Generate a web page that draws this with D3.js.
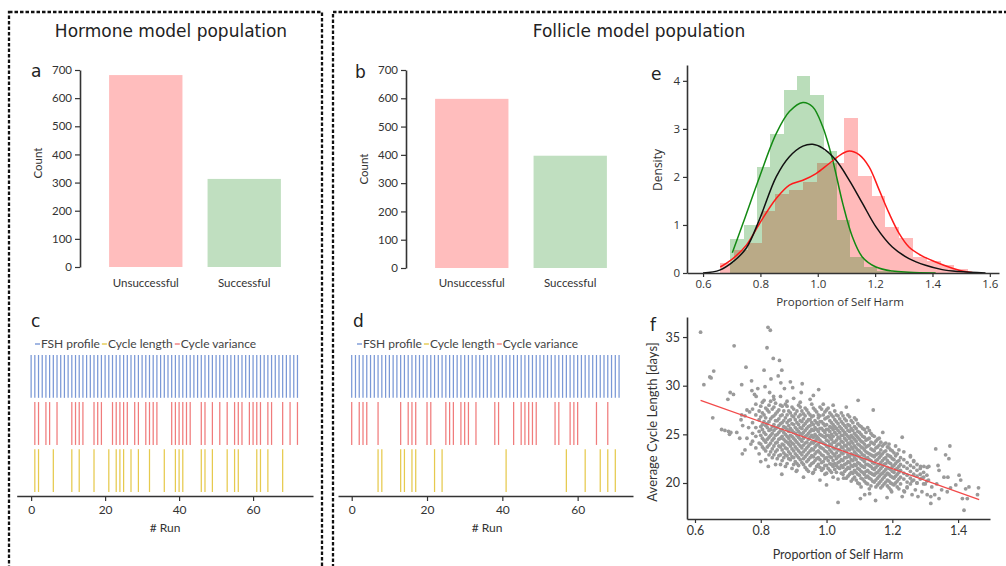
<!DOCTYPE html>
<html>
<head>
  <meta charset="utf-8">
  <title>Hormone and follicle model populations</title>
  <script src="https://cdn.jsdelivr.net/npm/d3@7"></script>
  <style>
    body { margin: 0; background: #fff; }
    text { font-family: Lato, "Noto Sans", sans-serif; fill: #333; }
  </style>
</head>
<body>
  <svg id="fig" width="1006" height="566"></svg>
  <script>
    // ---------- data ----------
    const outcomes = ["Unsuccessful", "Successful"];
    const hormoneCounts = [682, 313];
    const follicleCounts = [598, 397];
    const countTicks = [0, 100, 200, 300, 400, 500, 600, 700];

    const runRows = ["FSH profile", "Cycle variance", "Cycle length"];
    const legendOrder = ["FSH profile", "Cycle length", "Cycle variance"];
    const runTicks = [0, 20, 40, 60];

    // runs flagged in panel c (hormone model)
    const hormoneFsh = [0,1,2,3,4,5,6,7,8,9,10,11,12,13,14,15,16,17,18,19,20,21,22,23,24,25,26,27,28,29,30,31,32,33,34,35,36,
      37,38,39,40,41,42,43,44,45,46,47,48,49,50,51,52,53,54,55,56,57,58,59,60,61,62,63,64,65,66,67,68,69,70,71,72];
    const hormoneVariance = [1,2,4,5,7,11,12,13,14,17,18,19,22,23,24,25,26,28,29,31,32,33,34,38,39,40,41,42,43,46,47,49,51,53,55,56,57,59,60,61,62,64,65,68,70,72];
    const hormoneLength = [1,2,6,11,13,17,21,23,24,25,27,29,32,36,39,40,41,46,47,49,53,55,56,61,62,64,68];

    // runs flagged in panel d (follicle model)
    const follicleFsh = [0,1,2,3,4,5,6,7,8,9,10,11,12,13,14,15,16,17,18,19,20,21,22,23,24,25,26,27,28,29,30,31,32,33,34,35,36,
      37,38,39,40,41,42,43,44,45,46,47,48,49,50,51,52,53,54,55,56,57,58,59,60,61,62,63,64,65,66,67,68,69,70,71];
    const follicleVariance = [0,2,3,4,7,13,15,16,17,20,21,25,26,27,29,30,31,33,38,39,43,45,46,47,48,49,54,55,58,59,60,65,68];
    const follicleLength = [7,8,13,14,16,17,22,24,41,57,62,66,68,70];

    // panel e: histograms (bin edges + density) and density curves
    const harmTicks = [0.6, 0.8, 1.0, 1.2, 1.4, 1.6];
    const densityTicks = [0, 1, 2, 3, 4];
    const failEdges = [0.660,0.708,0.756,0.804,0.852,0.900,0.948,0.996,1.044,1.092,1.140,1.188,1.236,1.284,1.332,1.380,1.428,1.476,1.524];
    const failDensity = [0.20,0.47,0.63,1.30,1.65,1.72,1.90,2.28,2.30,3.22,2.02,1.60,0.96,0.72,0.33,0.25,0.17,0.09];
    const successEdges = [0.695,0.742,0.788,0.835,0.881,0.928,0.974,1.021,1.067,1.114,1.160,1.207,1.253,1.300,1.346,1.393];
    const successDensity = [0.70,1.00,2.20,2.90,3.80,4.10,3.70,2.55,1.10,0.33,0.12,0.05,0.03,0.02,0.01];

    const successCurve = [[0.702,0.42],[0.739,1.03],[0.797,2.0],[0.855,2.9],[0.901,3.36],[0.948,3.55],[0.982,3.46],[1.017,3.05],
      [1.052,2.35],[1.087,1.45],[1.121,0.75],[1.156,0.33],[1.203,0.125],[1.260,0.04],[1.318,0.015],[1.411,0.0]];
    const allCurve = [[0.600,0.0],[0.658,0.06],[0.704,0.23],[0.751,0.52],[0.797,1.12],[0.855,2.0],[0.901,2.42],[0.948,2.64],
      [0.982,2.68],[1.017,2.6],[1.063,2.35],[1.110,1.93],[1.156,1.45],[1.203,0.96],[1.260,0.54],[1.318,0.30],[1.376,0.16],
      [1.434,0.07],[1.492,0.03],[1.585,0.0]];
    const failCurve = [[0.660,0.125],[0.704,0.30],[0.751,0.58],[0.797,1.03],[0.855,1.55],[0.901,1.83],[0.948,1.93],[0.994,2.07],
      [1.040,2.28],[1.087,2.49],[1.110,2.54],[1.145,2.46],[1.179,2.21],[1.214,1.73],[1.249,1.24],[1.284,0.82],[1.318,0.54],
      [1.365,0.35],[1.411,0.23],[1.457,0.125],[1.504,0.04],[1.539,0.01]];

    // panel f: self harm vs average cycle length
    const harmTicksF = [0.6, 0.8, 1.0, 1.2, 1.4];
    const cycleTicks = [20, 25, 30, 35];
    const scatterFringe = [
      [0.617,35.5],[0.627,30.1],[0.649,30.8],[0.645,30.9],[0.657,31.5],[0.654,26.7],[0.719,34.1],[0.755,31.9],[0.81,31.6],
      [0.819,33.9],[0.822,36.0],[0.829,35.7],[0.838,32.8],[0.857,32.6],[0.864,31.6],[0.853,31.0],[0.831,30.7],[0.742,30.1],
      [0.772,30.5],[0.813,29.9],[0.861,30.3],[0.89,30.4],[0.926,30.2],[0.791,29.7],[0.773,29.5],[0.781,29.1],[0.786,28.9],
      [0.872,29.7],[0.897,29.8],[0.707,29.3],[0.717,29.1],[0.70,28.6],[0.827,29.3],[0.839,28.9],[0.923,29.3],[0.96,29.0],
      [0.976,29.6],[1.096,28.5],[1.142,27.5],
      [0.681,25.5],[0.691,25.4],[0.702,25.3],[0.709,25.2],[0.727,25.2],[0.705,25.0],[0.742,27.0],[0.752,23.4],[0.744,23.0],
      [0.74,26.5],[0.745,25.9],[0.752,26.9],[0.758,24.6],[0.763,25.7],[0.766,27.3],[0.77,24.0],[0.736,24.6],[0.758,27.5],
      [0.823,21.7],[0.864,20.9],[0.908,21.2],[0.958,21.0],[1.035,18.0],[1.052,20.5],[1.017,21.9],[0.80,22.2],[0.93,20.6],
      [0.98,20.3],[1.0,19.8],[1.103,18.4],[1.116,18.8],[1.131,18.9],[1.149,18.2],[1.184,18.5],[1.198,19.1],[1.23,18.6],
      [1.237,19.1],[1.245,19.5],[1.26,18.8],[1.27,19.3],[1.278,18.6],[1.29,19.1],[1.306,18.8],[1.317,18.6],[1.329,18.8],
      [1.342,18.4],[1.317,17.9],[1.367,19.1],[1.377,19.5],
      [1.171,25.2],[1.23,24.7],[1.19,24.0],[1.21,23.8],[1.255,22.7],[1.265,22.2],[1.286,21.7],[1.296,21.7],[1.311,21.7],
      [1.306,21.6],[1.332,23.5],[1.375,23.8],[1.362,22.9],[1.372,22.5],[1.339,21.8],[1.342,21.3],[1.357,20.6],[1.369,20.6],
      [1.403,20.8],[1.408,20.3],[1.393,19.8],[1.423,19.4],[1.433,19.6],[1.462,19.5],[1.459,18.8],[1.428,18.4],[1.413,18.4],
      [1.418,17.2],[1.26,20.2],[1.275,20.0],[1.29,20.5],[1.3,19.9],[1.31,20.3],[1.32,19.6],[1.335,19.9],[1.35,19.3],
      [0.84,28.6],[0.86,28.9],[0.88,28.4],[0.9,28.7],[0.92,28.3],[0.95,28.6],[0.99,28.1],[1.02,28.0],[1.06,27.8]
    ];
    // dense core, listed column by column: [self harm, [cycle lengths]]
    const scatterCore = [
      [0.775,[27.6,26.2,25.1,24.3]],
      [0.785,[28.1,27.0,25.7,24.8,23.6]],
      [0.795,[27.4,26.5,25.3,24.1,23.0]],
      [0.805,[28.3,27.2,26.0,25.5,24.6,23.7]],
      [0.815,[27.7,26.7,25.9,25.0,24.2,23.3,22.4]],
      [0.825,[28.0,27.3,26.3,25.4,24.7,23.9,22.9]],
      [0.835,[27.6,26.8,25.8,25.1,24.4,23.5,22.6]],
      [0.845,[28.2,27.1,26.4,25.6,24.9,24.1,23.2,21.9]],
      [0.855,[27.5,26.6,25.9,25.2,24.5,23.8,22.8]],
      [0.865,[27.9,27.0,26.2,25.5,24.8,24.0,23.4,22.3]],
      [0.875,[28.1,26.7,25.7,25.0,24.3,23.6,22.9,21.7]],
      [0.885,[27.4,26.4,25.9,25.3,24.6,24.0,23.2,22.5]],
      [0.895,[27.8,26.9,26.1,25.4,24.8,24.1,23.5,22.7,21.5]],
      [0.905,[27.1,26.5,25.7,25.1,24.4,23.7,23.0,22.2]],
      [0.915,[28.0,26.8,26.0,25.3,24.7,24.0,23.3,22.6,21.8]],
      [0.925,[27.4,26.3,25.6,25.0,24.3,23.6,22.9,22.1]],
      [0.935,[27.7,26.9,26.1,25.4,24.8,24.1,23.4,22.7,21.6]],
      [0.945,[27.2,26.5,25.8,25.1,24.5,23.8,23.1,22.4,21.2]],
      [0.955,[28.1,26.8,26.2,25.5,24.9,24.2,23.5,22.8,22.0]],
      [0.965,[27.5,26.4,25.7,25.0,24.3,23.7,23.0,22.3,21.4]],
      [0.975,[27.0,26.7,26.0,25.3,24.6,24.0,23.3,22.6,21.9]],
      [0.985,[27.6,26.3,25.6,24.9,24.2,23.6,22.9,22.1,21.3]],
      [0.995,[27.3,26.6,25.9,25.2,24.7,24.0,23.3,22.5,21.8,20.9]],
      [1.005,[27.7,26.8,25.5,24.9,24.3,23.7,23.0,22.3,21.5]],
      [1.015,[27.0,26.2,25.7,25.0,24.5,23.9,23.2,22.6,21.9,21.1]],
      [1.025,[27.4,26.5,25.8,25.2,24.2,23.5,22.8,22.0,21.4]],
      [1.035,[26.9,26.1,25.4,24.7,24.0,23.4,22.7,22.1,21.6,20.4]],
      [1.045,[27.2,26.3,25.6,24.9,24.3,23.7,23.1,22.4,21.8,21.0]],
      [1.055,[26.6,25.9,25.2,24.6,23.9,23.3,22.6,21.9,21.2]],
      [1.065,[27.0,26.0,25.4,24.8,24.1,23.5,22.9,22.2,21.6,20.7]],
      [1.075,[26.4,25.6,24.9,24.3,23.7,23.0,22.4,21.8,21.1,20.2]],
      [1.085,[26.7,25.8,25.1,24.5,23.8,23.2,22.6,21.9,21.3,20.6]],
      [1.095,[26.1,25.3,24.7,24.0,23.4,22.8,22.1,21.5,20.9,20.0]],
      [1.105,[25.8,25.0,24.3,23.7,23.1,22.5,21.8,21.2,20.5,19.6]],
      [1.115,[25.5,24.7,24.0,23.4,22.8,22.2,21.6,20.9,20.2]],
      [1.125,[25.7,24.5,23.8,23.1,22.6,21.9,21.3,20.7,19.9]],
      [1.135,[25.1,24.2,23.5,22.9,22.3,21.7,21.0,20.4,19.7]],
      [1.145,[24.8,24.0,23.3,22.7,22.0,21.4,20.8,20.1]],
      [1.155,[24.5,23.7,23.0,22.4,21.8,21.1,20.5,19.8]],
      [1.165,[24.2,23.4,22.8,22.1,21.5,20.9,20.2,19.5]],
      [1.175,[24.0,23.2,22.5,21.9,21.2,20.6,19.9]],
      [1.185,[23.7,22.9,22.3,21.6,21.0,20.3,19.7]],
      [1.195,[23.4,22.7,22.0,21.4,20.7,20.0,19.3]],
      [1.205,[23.1,22.4,21.8,21.1,20.5,19.8]],
      [1.215,[23.0,22.2,21.5,20.9,20.2,19.6]],
      [1.225,[22.6,21.9,21.3,20.6,19.9]],
      [1.235,[23.2,22.4,21.7,21.0,20.4,19.2]],
      [1.245,[22.1,21.5,20.8,20.1,19.6]],
      [1.255,[22.8,21.8,21.2,20.5,19.9]],
      [1.265,[22.3,21.6,20.9,20.3]],
      [1.275,[21.9,21.3,20.7,20.0]],
      [1.285,[21.5,20.9,20.4]],
      [1.295,[21.1,20.6,19.9]],
      [1.305,[20.8,20.2]]
    ];
    // second, interleaved pass over the densest part of the cloud
    const scatterCoreFill = [
      [0.800,[27.9,26.8,25.8,24.9,24.0]],
      [0.810,[28.5,27.0,26.3,25.2,24.4,23.5]],
      [0.820,[27.5,26.1,25.7,24.5,23.7]],
      [0.830,[28.4,26.6,25.5,24.9,24.1,23.2]],
      [0.840,[27.8,26.9,26.0,25.4,24.6,23.8,22.9]],
      [0.850,[27.3,26.4,25.7,25.0,24.2,23.4,22.5]],
      [0.860,[28.0,26.9,26.1,25.4,24.6,23.7,22.9,21.9]],
      [0.870,[27.4,26.4,25.8,25.2,24.5,23.9,23.1,22.6]],
      [0.880,[27.9,27.0,26.2,25.5,24.8,24.2,23.5,22.8,22.0]],
      [0.890,[27.2,26.5,25.6,24.9,24.3,23.8,23.0,22.4]],
      [0.900,[27.6,26.8,26.0,25.2,24.6,24.0,23.3,22.6,21.9]],
      [0.910,[27.4,26.2,25.5,24.9,24.2,23.5,22.8,22.0,21.3]],
      [0.920,[27.8,27.0,26.4,25.7,25.1,24.5,23.8,23.1,22.4]],
      [0.930,[27.1,26.6,25.9,25.2,24.6,23.9,23.2,22.5,21.9]],
      [0.940,[27.5,26.3,25.6,24.9,24.2,23.6,22.9,22.2,21.4]],
      [0.950,[27.0,26.5,25.9,25.3,24.7,24.0,23.3,22.6,21.8]],
      [0.960,[27.7,26.9,26.0,25.4,24.7,24.1,23.4,22.7,22.1,21.1]],
      [0.970,[27.3,26.2,25.5,24.8,24.5,23.9,23.2,22.5,21.7]],
      [0.980,[27.8,26.9,26.3,25.6,25.0,24.4,23.7,23.1,22.4,21.6]],
      [0.990,[27.0,26.1,25.4,24.8,24.1,23.5,22.8,22.2,21.5]],
      [1.000,[27.5,26.7,26.0,25.5,24.9,24.4,23.8,23.2,22.6,21.8,21.0]],
      [1.010,[27.2,26.4,25.8,25.3,24.7,24.0,23.4,22.7,22.0,21.3]],
      [1.020,[26.8,26.0,25.5,24.8,24.2,23.6,23.0,22.3,21.7,20.6]],
      [1.030,[27.0,26.3,25.6,25.0,24.4,23.8,23.1,22.5,21.8,21.1]],
      [1.040,[26.6,25.8,25.2,24.6,24.0,23.4,22.8,22.2,21.5]],
      [1.050,[26.9,26.1,25.4,24.9,24.2,23.6,23.0,22.3,21.6,20.9]],
      [1.060,[26.4,25.7,25.0,24.4,23.8,23.2,22.6,22.0,21.4,20.5]],
      [1.070,[26.8,25.9,25.3,24.6,24.0,23.4,22.7,22.1,21.5,20.9]],
      [1.080,[26.2,25.4,24.7,24.1,23.5,22.9,22.3,21.7,21.0,20.4]],
      [1.090,[26.5,25.6,24.9,24.3,23.6,23.0,22.4,21.8,21.1,20.3]],
      [1.100,[25.9,25.2,24.5,23.9,23.3,22.7,22.0,21.4,20.8,19.9]],
      [1.110,[25.6,24.8,24.2,23.6,22.9,22.4,21.7,21.1,20.4]],
      [1.120,[25.2,24.4,23.7,23.2,22.5,21.9,21.2,20.6,20.0]],
      [1.130,[25.4,24.6,23.9,23.0,22.4,21.8,21.1,20.5,19.4]],
      [1.140,[24.9,24.1,23.4,22.8,22.1,21.5,20.9,20.2]],
      [1.150,[24.3,23.6,22.9,22.3,21.6,21.0,20.3,19.6]],
      [1.160,[24.6,23.9,23.1,22.6,21.9,21.3,20.7,20.0]],
      [1.170,[23.8,23.0,22.3,21.7,21.0,20.4,19.7]],
      [1.180,[24.1,23.3,22.6,22.0,21.4,20.8,20.1]],
      [1.190,[23.6,22.8,22.1,21.5,20.9,20.2,19.5]],
      [1.200,[23.3,22.5,21.7,21.2,20.6,19.9]],
      [1.210,[22.8,22.0,21.4,20.7,20.0]],
      [1.220,[23.4,22.3,21.7,21.1,20.4,19.4]]
    ];
    const fitLine = [[0.617, 28.5], [1.464, 18.3]];

    // ---------- drawing ----------
    const svg = d3.select("#fig");
    const barColors = ["#ffbdbd", "#c0dfc0"];
    const runColors = { "FSH profile": "#7a98d6", "Cycle variance": "#f07c7c", "Cycle length": "#e6ca4e" };
    const ink = "#333";

    svg.append("rect").attr("width", 1006).attr("height", 566).attr("fill", "#fff");

    // dashed frames
    [[9, 12, 313, 620], [333, 12, 700, 620]].forEach(([x, y, w, h]) => {
      svg.append("rect").attr("x", x).attr("y", y).attr("width", w).attr("height", h)
        .attr("fill", "none").attr("stroke", "#111").attr("stroke-width", 2.3)
        .attr("stroke-dasharray", "3.5,2");
    });

    function title(x, txt) {
      svg.append("text").attr("x", x).attr("y", 37).attr("text-anchor", "middle")
        .style("font-family", "'DejaVu Sans', sans-serif").style("font-size", "17px").style("fill", "#222")
        .text(txt);
    }
    title(171, "Hormone model population");
    title(639, "Follicle model population");

    function panelLetter(x, y, s) {
      svg.append("text").attr("x", x).attr("y", y)
        .style("font-family", "'DejaVu Sans', sans-serif").style("font-size", "17px").style("fill", "#222")
        .text(s);
    }

    function styleAxis(g, size) {
      g.select(".domain").attr("stroke", ink).attr("stroke-width", 1.6);
      g.selectAll(".tick line").attr("stroke", ink).attr("stroke-width", 1.2);
      g.selectAll(".tick text").style("font-family", "Lato, sans-serif").style("font-size", size).style("fill", ink);
    }

    // panels a and b
    function barPanel(o) {
      const y = d3.scaleLinear().domain([0, 700]).range([o.yBase, o.yTop]);
      const x = d3.scaleBand().domain(outcomes).range(o.xRange).paddingInner(0.255).paddingOuter(0.128);
      const g = svg.append("g");
      g.selectAll("rect").data(o.counts).join("rect")
        .attr("x", (d, i) => x(outcomes[i]))
        .attr("y", d => y(d))
        .attr("width", x.bandwidth())
        .attr("height", d => y(0) - y(d))
        .attr("fill", (d, i) => barColors[i]);
      const ax = g.append("g").attr("transform", `translate(${o.axisX},0)`)
        .call(d3.axisLeft(y).tickValues(countTicks).tickSize(5).tickSizeOuter(0).tickPadding(3));
      styleAxis(ax, "11.5px");
      g.selectAll(".cat").data(outcomes).join("text")
        .attr("x", d => x(d) + x.bandwidth() / 2).attr("y", 287)
        .attr("text-anchor", "middle").style("font-size", "11.5px")
        .text(d => d);
      g.append("text").attr("transform", `translate(${o.labelX},${o.labelY}) rotate(-90)`)
        .attr("text-anchor", "middle").style("font-size", "11.5px").text("Count");
    }
    barPanel({ counts: hormoneCounts, yBase: 267, yTop: 70, xRange: [96.5, 293.5], axisX: 80, labelX: 42, labelY: 163 });
    barPanel({ counts: follicleCounts, yBase: 268, yTop: 70, xRange: [422.5, 619.5], axisX: 406, labelX: 368, labelY: 169 });
    panelLetter(31, 77, "a");
    panelLetter(355, 78, "b");

    // panels c and d
    function runPanel(o) {
      const x = d3.scaleLinear().domain(o.domain).range(o.range);
      const row = d3.scaleBand().domain(runRows).range([355, 492]).paddingInner(0.09);
      const g = svg.append("g");
      const sets = { "FSH profile": o.fsh, "Cycle variance": o.variance, "Cycle length": o.length };
      runRows.forEach(r => {
        g.append("g").selectAll("line").data(sets[r]).join("line")
          .attr("x1", d => x(d)).attr("x2", d => x(d))
          .attr("y1", row(r)).attr("y2", row(r) + row.bandwidth())
          .attr("stroke", runColors[r]).attr("stroke-width", 1.25);
      });
      const ax = g.append("g").attr("transform", "translate(0,496)")
        .call(d3.axisBottom(x).tickValues(runTicks).tickSize(5).tickSizeOuter(0).tickPadding(4));
      styleAxis(ax, "12px");
      g.append("text").attr("x", o.runLabelX).attr("y", 532).attr("text-anchor", "middle")
        .style("font-size", "12px").text("# Run");
      // legend
      let cx = o.legendX;
      legendOrder.forEach(k => {
        g.append("line").attr("x1", cx).attr("x2", cx + 5).attr("y1", 344).attr("y2", 344)
          .attr("stroke", runColors[k]).attr("stroke-width", 1.4);
        const t = g.append("text").attr("x", cx + 6).attr("y", 348)
          .style("font-size", "12px").style("fill", "#444").text(k);
        cx += 6 + t.node().getComputedTextLength() + 2;
      });
    }
    runPanel({ domain: [-3.9, 76.2], range: [16.7, 313], fsh: hormoneFsh, variance: hormoneVariance, length: hormoneLength,
      runLabelX: 165, legendX: 35 });
    runPanel({ domain: [-3.64, 74.7], range: [338, 633], fsh: follicleFsh, variance: follicleVariance, length: follicleLength,
      runLabelX: 487, legendX: 357 });
    panelLetter(31, 327, "c");
    panelLetter(353, 327, "d");

    // panel e
    (function () {
      const x = d3.scaleLinear().domain([0.544, 1.632]).range([687, 999]);
      const y = d3.scaleLinear().domain([0, 4.33]).range([273, 65]);
      const g = svg.append("g");
      const hist = (edges, vals, color, op) => {
        g.append("g").selectAll("rect").data(vals).join("rect")
          .attr("x", (d, i) => x(edges[i]))
          .attr("width", (d, i) => x(edges[i + 1]) - x(edges[i]))
          .attr("y", d => y(d))
          .attr("height", d => y(0) - y(d))
          .attr("fill", color).attr("fill-opacity", op)
          .attr("shape-rendering", "crispEdges");
      };
      hist(failEdges, failDensity, "red", 0.27);
      hist(successEdges, successDensity, "green", 0.27);
      const line = d3.line().x(d => x(d[0])).y(d => y(d[1])).curve(d3.curveCatmullRom);
      [[successCurve, "#138a13"], [failCurve, "#ff1a1a"], [allCurve, "#111"]].forEach(([c, col]) => {
        g.append("path").attr("d", line(c)).attr("fill", "none").attr("stroke", col).attr("stroke-width", 1.5);
      });
      const ax = g.append("g").attr("transform", "translate(0,273)")
        .call(d3.axisBottom(x).tickValues(harmTicks).tickFormat(d3.format(".1f")).tickSize(4).tickSizeOuter(0).tickPadding(3));
      const ay = g.append("g").attr("transform", "translate(687,0)")
        .call(d3.axisLeft(y).tickValues(densityTicks).tickFormat(d3.format("d")).tickSize(4).tickSizeOuter(0).tickPadding(3));
      [ax, ay].forEach(a => {
        styleAxis(a, "11.5px");
        a.selectAll(".tick text").style("font-family", "'Open Sans', sans-serif");
      });
      g.append("text").attr("x", 840).attr("y", 306).attr("text-anchor", "middle")
        .style("font-family", "'Open Sans', sans-serif").style("font-size", "11.5px").text("Proportion of Self Harm");
      g.append("text").attr("transform", "translate(662,170) rotate(-90)").attr("text-anchor", "middle")
        .style("font-family", "'Open Sans', sans-serif").style("font-size", "12px").text("Density");
    })();
    panelLetter(651, 80, "e");

    // panel f
    (function () {
      const x = d3.scaleLinear().domain([0.5757, 1.497]).range([687, 990]);
      const y = d3.scaleLinear().domain([16.3, 37.06]).range([519, 317]);
      const g = svg.append("g");
      const flat = cols => cols.flatMap(([h, ys]) => ys.map(v => [h, v]));
      const pts = scatterFringe.concat(flat(scatterCore), flat(scatterCoreFill));
      g.selectAll("circle").data(pts).join("circle")
        .attr("cx", d => x(d[0])).attr("cy", d => y(d[1])).attr("r", 1.9)
        .attr("fill", "#9a9a9a");
      g.append("path").attr("d", d3.line().x(d => x(d[0])).y(d => y(d[1]))(fitLine))
        .attr("stroke", "#f24a4a").attr("stroke-width", 1.3).attr("fill", "none");
      const ax = g.append("g").attr("transform", "translate(0,519)")
        .call(d3.axisBottom(x).tickValues(harmTicksF).tickFormat(d3.format(".1f")).tickSize(4).tickSizeOuter(0).tickPadding(3));
      const ay = g.append("g").attr("transform", "translate(687,0)")
        .call(d3.axisLeft(y).tickValues(cycleTicks).tickSize(4).tickSizeOuter(0).tickPadding(3));
      styleAxis(ax, "12.5px");
      styleAxis(ay, "12.5px");
      g.append("text").attr("x", 838).attr("y", 559).attr("text-anchor", "middle")
        .style("font-size", "12.5px").text("Proportion of Self Harm");
      g.append("text").attr("transform", "translate(657,422) rotate(-90)").attr("text-anchor", "middle")
        .style("font-size", "13px").text("Average Cycle Length  [days]");
    })();
    panelLetter(650, 331, "f");
  </script>
</body>
</html>
